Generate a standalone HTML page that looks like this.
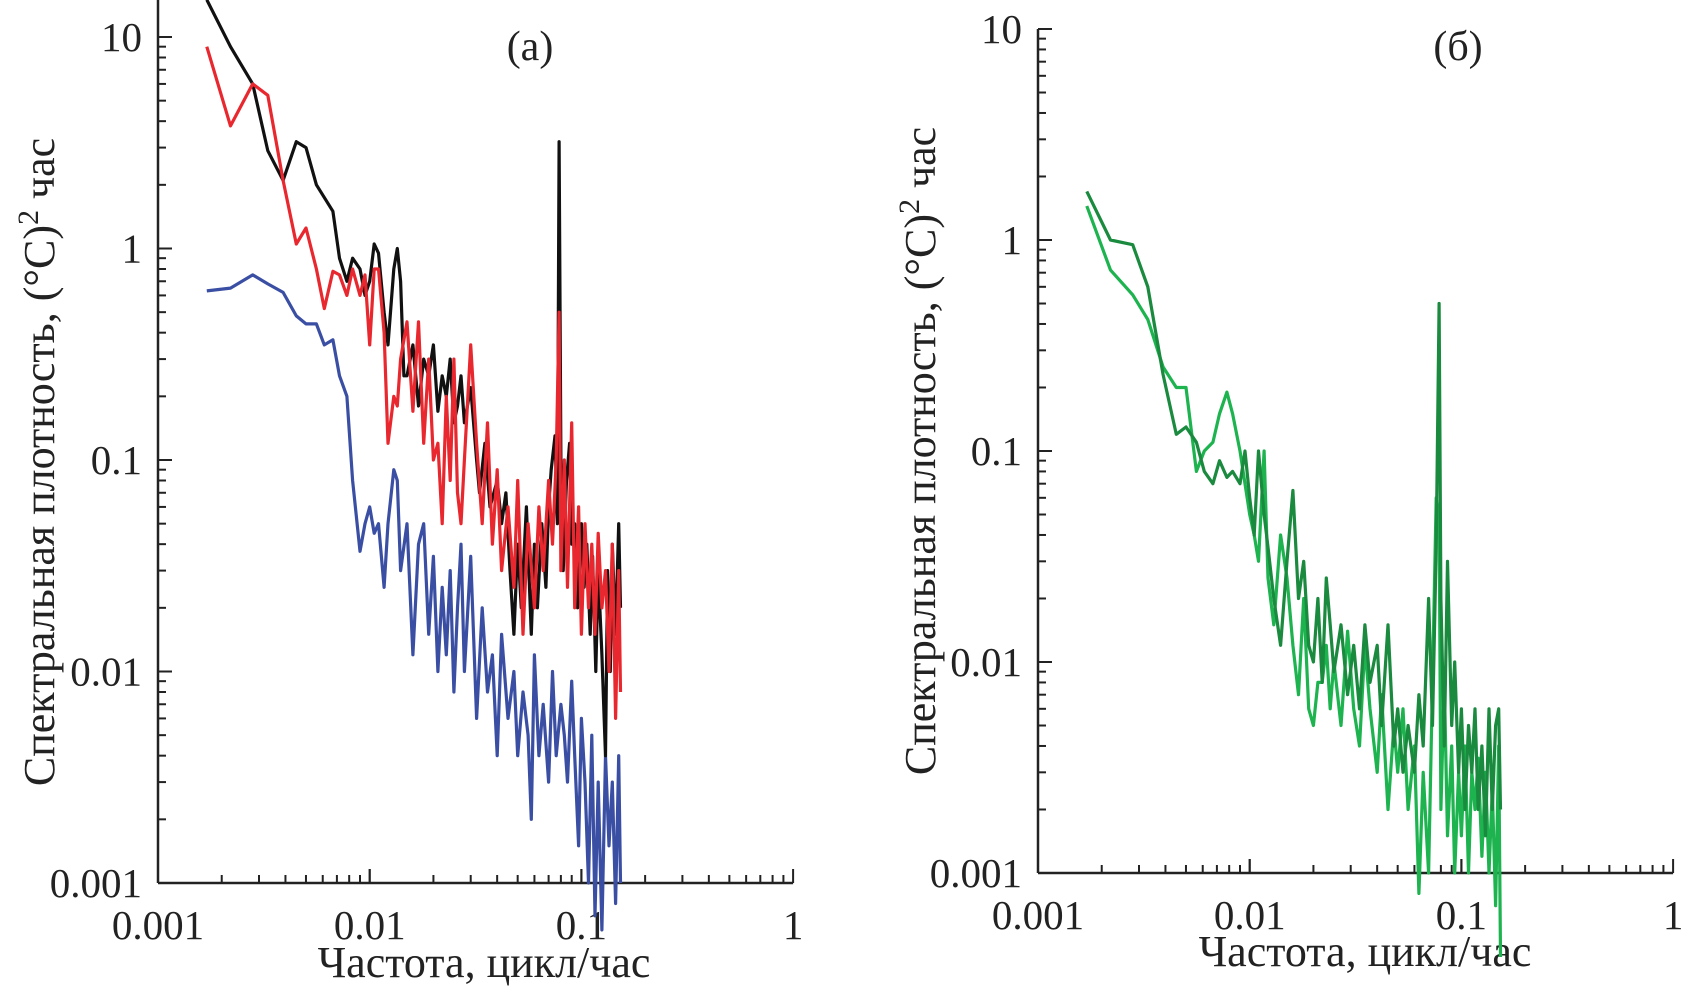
<!DOCTYPE html>
<html><head><meta charset="utf-8">
<style>
html,body{margin:0;padding:0;background:#fff;}
svg{display:block;font-family:"Liberation Serif",serif;}
</style></head>
<body>
<svg id="chart" width="1683" height="990" viewBox="0 0 1683 990" xmlns="http://www.w3.org/2000/svg"></svg>
<script>
// ---- Data: panel (a) ----
const xTickLabels = ["0.001","0.01","0.1","1"];
const yTickLabels = ["0.001","0.01","0.1","1","10"];
const blackF = [0.0017,0.0022,0.0028,0.0033,0.0039,0.0045,0.005,0.0056,0.0067,0.0072,0.0078,0.0083,0.009,0.0095,0.01,0.0105,0.011,0.0117,0.0122,0.013,0.0135,0.014,0.0145,0.015,0.016,0.017,0.018,0.019,0.02,0.021,0.022,0.023,0.024,0.025,0.026,0.027,0.028,0.03,0.032,0.033,0.035,0.037,0.04,0.042,0.044,0.046,0.048,0.05,0.052,0.055,0.058,0.06,0.062,0.065,0.068,0.07,0.072,0.075,0.077,0.0785,0.08,0.082,0.085,0.088,0.09,0.093,0.096,0.1,0.103,0.106,0.11,0.113,0.117,0.12,0.125,0.13,0.133,0.137,0.14,0.145,0.15,0.153];
const blackV = [15,9,6,2.9,2.1,3.2,3.0,2.0,1.5,0.9,0.7,0.9,0.8,0.6,0.7,1.05,0.95,0.5,0.35,0.8,1.0,0.7,0.25,0.25,0.35,0.18,0.3,0.25,0.35,0.17,0.25,0.2,0.3,0.15,0.18,0.25,0.15,0.22,0.1,0.07,0.12,0.06,0.08,0.05,0.07,0.03,0.015,0.04,0.02,0.06,0.015,0.04,0.02,0.05,0.025,0.06,0.09,0.13,0.05,3.2,0.1,0.03,0.08,0.12,0.04,0.05,0.02,0.05,0.025,0.04,0.015,0.035,0.01,0.03,0.012,0.004,0.03,0.01,0.04,0.015,0.05,0.02];
const redF = [0.0017,0.0022,0.0028,0.0033,0.0039,0.0045,0.005,0.0056,0.0061,0.0067,0.0072,0.0078,0.0083,0.009,0.0095,0.01,0.0105,0.011,0.0117,0.0122,0.013,0.0135,0.014,0.015,0.016,0.017,0.018,0.019,0.02,0.021,0.022,0.023,0.024,0.025,0.026,0.027,0.028,0.03,0.032,0.034,0.036,0.038,0.04,0.042,0.045,0.048,0.05,0.053,0.056,0.06,0.063,0.066,0.07,0.073,0.076,0.0785,0.08,0.083,0.086,0.09,0.093,0.097,0.1,0.104,0.108,0.112,0.116,0.12,0.125,0.13,0.135,0.14,0.145,0.15,0.153];
const redV = [9,3.8,6,5.3,2.1,1.05,1.25,0.8,0.52,0.78,0.75,0.6,0.8,0.6,0.75,0.35,0.8,0.8,0.4,0.12,0.2,0.18,0.3,0.45,0.17,0.45,0.12,0.3,0.1,0.12,0.05,0.2,0.08,0.3,0.07,0.05,0.1,0.35,0.12,0.05,0.15,0.04,0.09,0.03,0.06,0.025,0.08,0.015,0.05,0.02,0.06,0.03,0.08,0.04,0.1,0.5,0.03,0.1,0.025,0.15,0.02,0.06,0.015,0.05,0.02,0.04,0.015,0.045,0.02,0.03,0.01,0.04,0.006,0.03,0.008];
const blueF = [0.0017,0.0022,0.0028,0.0033,0.0039,0.0045,0.005,0.0056,0.0061,0.0067,0.0072,0.0078,0.0083,0.009,0.0095,0.01,0.0105,0.011,0.0117,0.0122,0.013,0.0135,0.014,0.015,0.016,0.017,0.018,0.019,0.02,0.021,0.022,0.023,0.024,0.025,0.026,0.027,0.028,0.03,0.032,0.034,0.036,0.038,0.04,0.042,0.045,0.048,0.05,0.053,0.056,0.058,0.06,0.063,0.066,0.07,0.073,0.076,0.08,0.083,0.086,0.09,0.093,0.097,0.1,0.104,0.108,0.112,0.116,0.12,0.125,0.13,0.135,0.14,0.145,0.15,0.153];
const blueV = [0.63,0.65,0.75,0.68,0.62,0.48,0.44,0.44,0.35,0.37,0.25,0.2,0.08,0.037,0.05,0.06,0.045,0.05,0.025,0.05,0.09,0.08,0.03,0.05,0.012,0.04,0.05,0.015,0.035,0.01,0.025,0.012,0.03,0.008,0.02,0.04,0.01,0.035,0.006,0.02,0.008,0.012,0.004,0.015,0.006,0.01,0.004,0.008,0.005,0.002,0.012,0.004,0.007,0.003,0.01,0.004,0.007,0.005,0.003,0.009,0.004,0.0015,0.006,0.003,0.001,0.005,0.0007,0.003,0.0006,0.004,0.0015,0.003,0.0008,0.004,0.001];
// ---- Data: panel (б) ----
const greenF = [0.0017,0.0022,0.0028,0.0033,0.0039,0.0045,0.005,0.0056,0.0061,0.0067,0.0072,0.0078,0.0083,0.009,0.0095,0.01,0.0105,0.011,0.0117,0.0122,0.013,0.014,0.015,0.016,0.017,0.018,0.019,0.02,0.021,0.022,0.023,0.024,0.025,0.027,0.029,0.031,0.033,0.035,0.037,0.04,0.042,0.045,0.048,0.05,0.053,0.056,0.06,0.063,0.066,0.07,0.073,0.076,0.0785,0.08,0.083,0.086,0.09,0.093,0.097,0.1,0.104,0.108,0.112,0.116,0.12,0.125,0.13,0.135,0.14,0.145,0.15,0.153];
const darkGreenV = [1.7,1.0,0.95,0.6,0.23,0.12,0.13,0.11,0.08,0.07,0.09,0.075,0.08,0.07,0.1,0.06,0.04,0.1,0.05,0.035,0.02,0.012,0.03,0.065,0.02,0.03,0.012,0.01,0.02,0.008,0.025,0.015,0.009,0.015,0.007,0.012,0.006,0.015,0.008,0.012,0.005,0.015,0.004,0.006,0.003,0.005,0.003,0.007,0.004,0.02,0.005,0.035,0.5,0.02,0.004,0.03,0.005,0.01,0.003,0.006,0.002,0.005,0.003,0.006,0.002,0.004,0.0015,0.006,0.002,0.005,0.006,0.002];
const lightGreenV = [1.45,0.72,0.55,0.42,0.25,0.2,0.2,0.08,0.1,0.11,0.15,0.19,0.15,0.1,0.07,0.05,0.04,0.03,0.1,0.025,0.015,0.04,0.025,0.012,0.007,0.02,0.006,0.005,0.008,0.008,0.012,0.006,0.01,0.005,0.014,0.006,0.004,0.012,0.006,0.003,0.007,0.002,0.005,0.003,0.006,0.002,0.004,0.0008,0.003,0.001,0.008,0.06,0.05,0.002,0.008,0.0015,0.004,0.001,0.003,0.0015,0.004,0.001,0.003,0.002,0.0035,0.0012,0.003,0.001,0.0025,0.0007,0.004,0.0004];

const NS="http://www.w3.org/2000/svg";
const svg=document.getElementById('chart');
function el(tag,attrs,parent){const e=document.createElementNS(NS,tag);for(const k in attrs)e.setAttribute(k,attrs[k]);(parent||svg).appendChild(e);return e;}

function makePanel(p){
  const g=el('g',{});
  
  
  const xs=f=>p.x0+(Math.log10(f)+3)*p.dx;
  const ys=v=>p.y0-(Math.log10(v)+3)*p.dy;
  const ya=el('line',{x1:p.x0,y1:p.yTop,x2:p.x0,y2:p.y0,stroke:'#222','stroke-width':2.5},g);
  
  
  const xa=el('line',{x1:p.x0,y1:p.y0,x2:p.x0+3*p.dx,y2:p.y0,stroke:'#222','stroke-width':2.5},g);
  
  
  for(let d=0;d<3;d++){for(let m=1;m<=10;m++){
    const x=p.x0+(d+Math.log10(m))*p.dx;const L=(m===1||m===10)?14:8;
    el('line',{x1:x,y1:p.y0,x2:x,y2:p.y0-L,stroke:'#222','stroke-width':2},g);}}
  for(let d=0;d<4;d++){for(let m=1;m<=10;m++){
    const y=p.y0-(d+Math.log10(m))*p.dy;if(y<p.yTop-1)continue;const L=(m===1||m===10)?14:8;
    el('line',{x1:p.x0,y1:y,x2:p.x0+L,y2:y,stroke:'#222','stroke-width':2},g);}}
  xTickLabels.forEach((t,i)=>{const e=el('text',{x:p.x0+i*p.dx,y:p.y0+56,'text-anchor':'middle','font-size':41,fill:'#222'},g);e.textContent=t;
    
    });
  yTickLabels.forEach((t,i)=>{const e=el('text',{x:p.x0-16,y:p.y0-i*p.dy+14,'text-anchor':'end','font-size':41,fill:'#222'},g);e.textContent=t;
    
    });
  const xt=el('text',{x:p.xtx,y:p.xty,'text-anchor':'middle','font-size':44,fill:'#222'},g);xt.textContent='Частота, цикл/час';
  
  
  const yt=el('text',{x:0,y:0,'text-anchor':'middle','font-size':44,fill:'#222',transform:`translate(${p.ytx},${p.yty}) rotate(-90)`},g);
  yt.innerHTML='Спектральная плотность, (°С)<tspan dy="-16" font-size="30">2</tspan><tspan dy="16"> час</tspan>';
  
  
  const pl=el('text',{x:p.lx,y:60,'text-anchor':'middle','font-size':42,fill:'#222'},g);pl.textContent=p.label;
  
  
  p.series.forEach(s=>{
    const d=s.f.map((f,i)=>(i?'L':'M')+xs(f).toFixed(1)+','+ys(s.v[i]).toFixed(1)).join('');
    const path=el('path',{d:d,fill:'none',stroke:s.c,'stroke-width':3.2,'stroke-linejoin':'round'},g);
    
    
  });
}
makePanel({name:'panel-a',x0:158,dx:211.7,y0:883,dy:211.5,yTop:0,label:'(а)',lx:530,xtx:484,xty:977,ytx:54,yty:462,
  series:[{name:'series-blue',f:blueF,v:blueV,c:'#3a4fa3'},{name:'series-black',f:blackF,v:blackV,c:'#111'},{name:'series-red',f:redF,v:redV,c:'#e8282e'}]});
makePanel({name:'panel-b',x0:1038,dx:211.7,y0:873,dy:211,yTop:29,label:'(б)',lx:1458,xtx:1365,xty:966,ytx:935,yty:451,
  series:[{name:'series-light-green',f:greenF,v:lightGreenV,c:'#1db34f'},{name:'series-dark-green',f:greenF,v:darkGreenV,c:'#1a8a3e'}]});
</script>
</body></html>
